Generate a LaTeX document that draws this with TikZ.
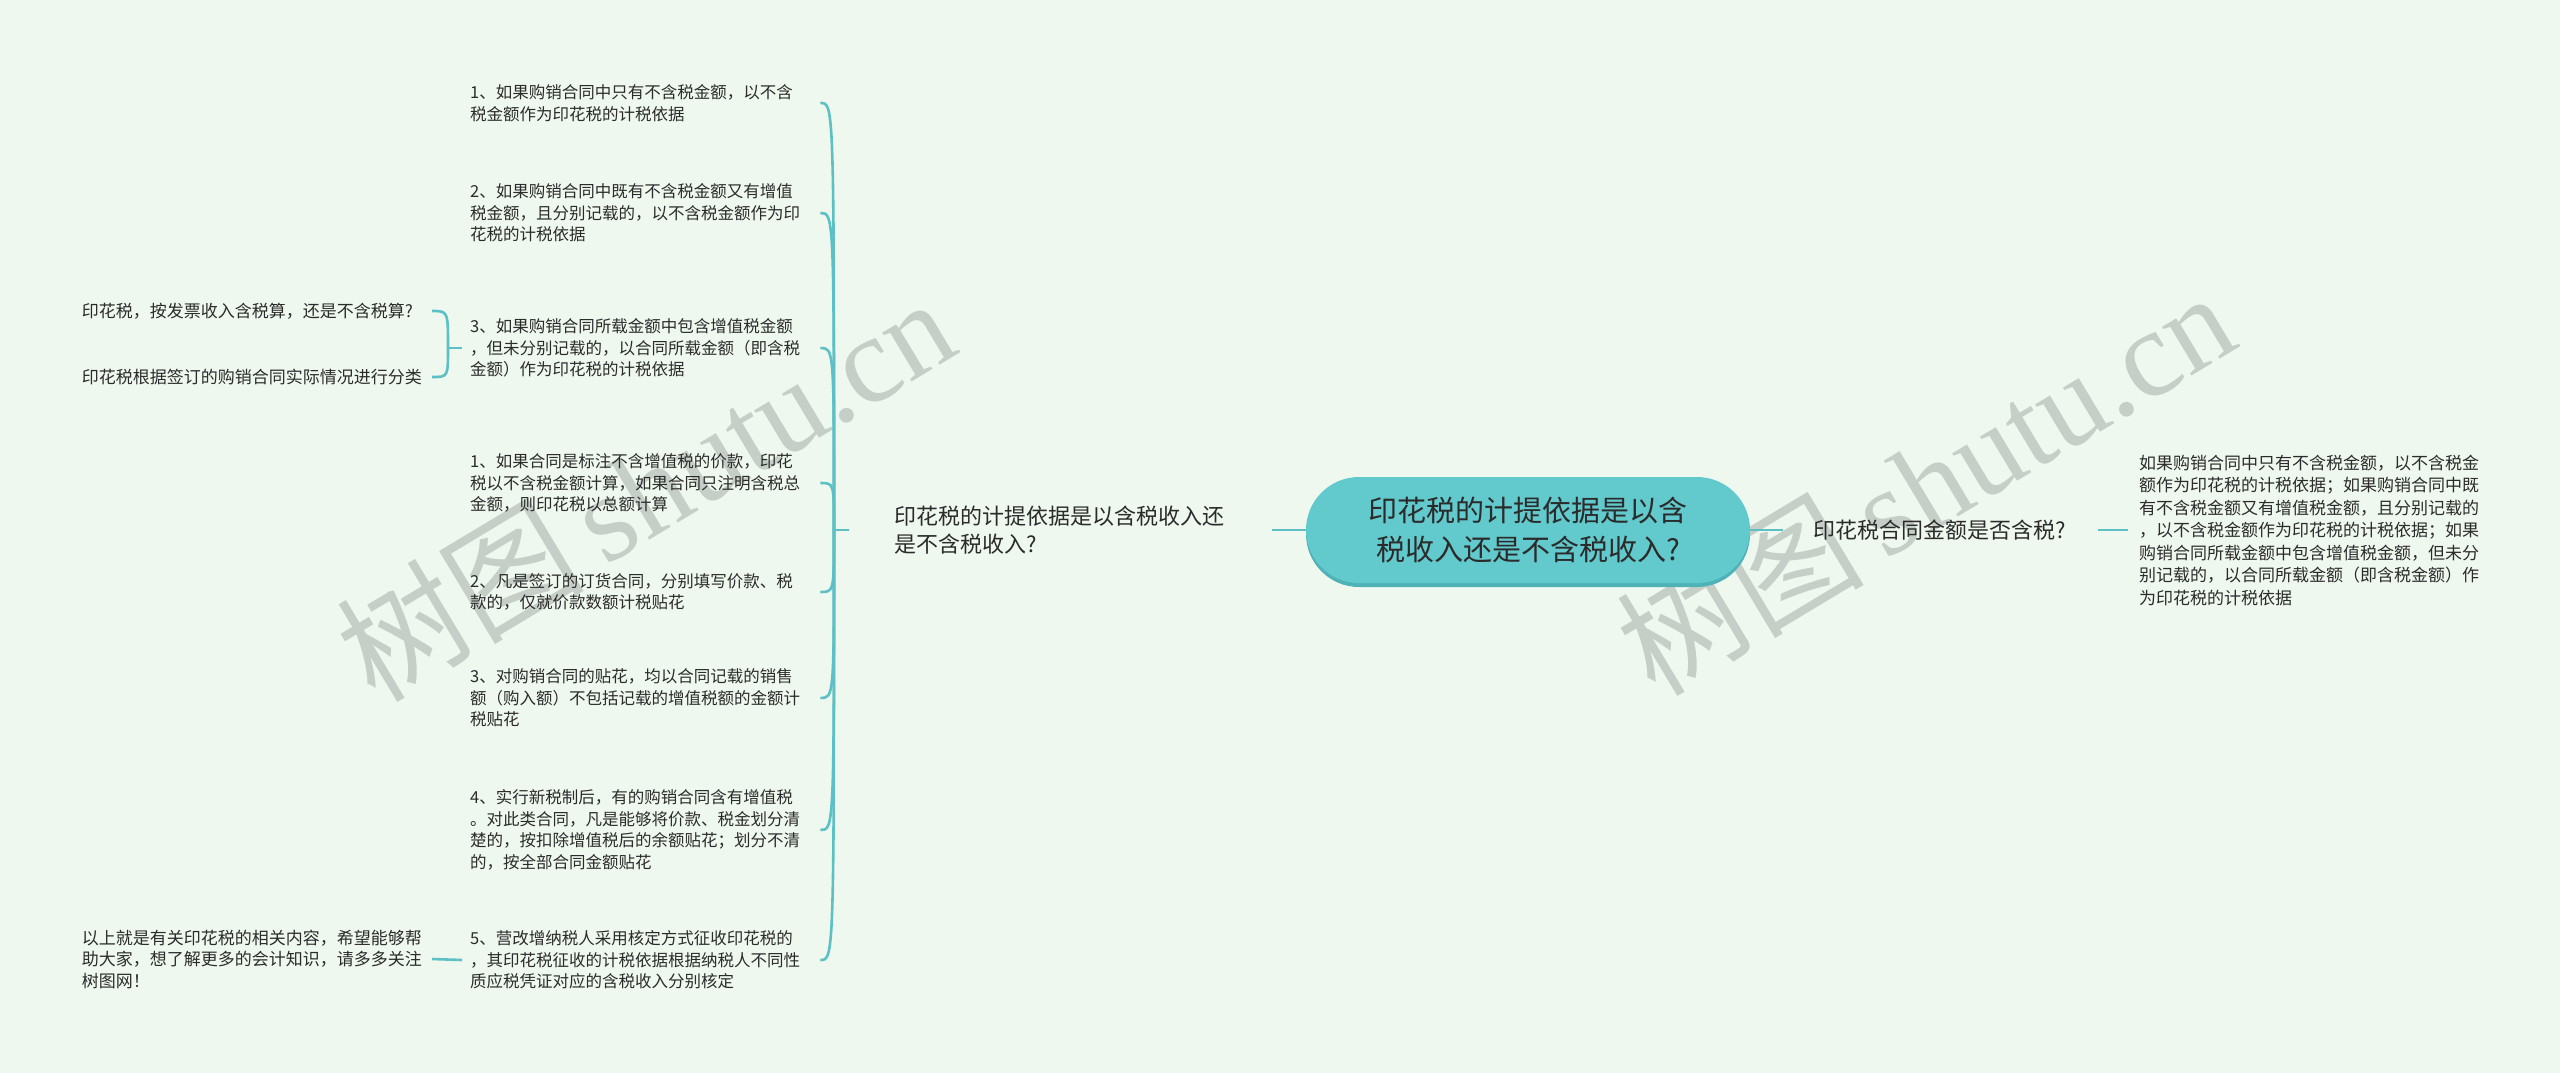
\documentclass[tikz,border=0pt]{standalone}
\usepackage{fontspec}
\setmainfont{Noto Sans CJK SC}
\newfontfamily\wmfont{Liberation Serif}
\usetikzlibrary{calc}
\definecolor{bgc}{HTML}{EFF8EE}
\definecolor{tealfill}{HTML}{62C9CC}
\definecolor{tealshadow}{HTML}{4FB2B6}
\definecolor{linec}{HTML}{5CC0C5}
\definecolor{txt}{HTML}{2B2B2B}
\definecolor{wmc}{HTML}{C6CEC8}
\begin{document}
\begin{tikzpicture}[x=1pt,y=-1pt,
  conn/.style={draw=linec, line width=2.6pt},
  leaf/.style={anchor=west, align=left, text width=342pt, inner xsep=8pt, inner ysep=2pt,
    font=\fontsize{16.5}{21.5}\selectfont, text=txt},
  farleaf/.style={anchor=east, align=left, text width=345pt, inner xsep=5pt, inner ysep=2pt,
    font=\fontsize{17}{21.5}\selectfont, text=txt},
  branch/.style={align=left, inner ysep=4pt, font=\fontsize{22}{28}\selectfont, text=txt},
  wm/.style={rotate=31, text=wmc, font=\fontsize{124}{124}\selectfont}
]
\fill[bgc] (0,0) rectangle (2560,1073);
\useasboundingbox (0,0) rectangle (2560,1073);

% watermarks
\node[wm] (wmA) at (645,488) {树图\,{\wmfont shutu.cn}};
\node[wm] (wmB) at (1925,482) {树图\,{\wmfont shutu.cn}};

% root
\fill[tealshadow, rounded corners=53pt] (1306,481) rectangle (1750,587);
\node[fill=tealfill, rounded corners=53pt, minimum width=444pt, minimum height=106pt,
  align=center, font=\fontsize{29}{39}\selectfont, text=txt] (root) at (1528,530)
  {印花税的计提依据是以含\\税收入还是不含税收入?};

% main branches
\node[branch, text width=332pt, inner xsep=45.5pt] (L) at (1060.5,530)
  {印花税的计提依据是以含税收入还\\是不含税收入?};
\node[branch, text width=255pt, inner xsep=30pt] (R) at (1940.5,530)
  {印花税合同金额是否含税?};
\node[leaf, font=\fontsize{17}{22.5}\selectfont, text width=345pt, inner xsep=11pt] (RC) at (2128,530)
  {如果购销合同中只有不含税金额，以不含税金\\额作为印花税的计税依据；如果购销合同中既\\有不含税金额又有增值税金额，且分别记载的\\，以不含税金额作为印花税的计税依据；如果\\购销合同所载金额中包含增值税金额，但未分\\别记载的，以合同所载金额（即含税金额）作\\为印花税的计税依据};

% left children
\node[leaf] (c1) at (462,103) {1、如果购销合同中只有不含税金额，以不含\\税金额作为印花税的计税依据};
\node[leaf] (c2) at (462,213) {2、如果购销合同中既有不含税金额又有增值\\税金额，且分别记载的，以不含税金额作为印\\花税的计税依据};
\node[leaf] (c3) at (462,348) {3、如果购销合同所载金额中包含增值税金额\\，但未分别记载的，以合同所载金额（即含税\\金额）作为印花税的计税依据};
\node[leaf] (c4) at (462,483) {1、如果合同是标注不含增值税的价款，印花\\税以不含税金额计算，如果合同只注明含税总\\金额，则印花税以总额计算};
\node[leaf] (c5) at (462,592) {2、凡是签订的订货合同，分别填写价款、税\\款的，仅就价款数额计税贴花};
\node[leaf] (c6) at (462,698) {3、对购销合同的贴花，均以合同记载的销售\\额（购入额）不包括记载的增值税额的金额计\\税贴花};
\node[leaf] (c7) at (462,830) {4、实行新税制后，有的购销合同含有增值税\\。对此类合同，凡是能够将价款、税金划分清\\楚的，按扣除增值税后的余额贴花；划分不清\\的，按全部合同金额贴花};
\node[leaf] (c8) at (462,960) {5、营改增纳税人采用核定方式征收印花税的\\，其印花税征收的计税依据根据纳税人不同性\\质应税凭证对应的含税收入分别核定};

% far-left leaves
\node[farleaf] (d1) at (432,311) {印花税，按发票收入含税算，还是不含税算?};
\node[farleaf] (d2) at (432,377) {印花税根据签订的购销合同实际情况进行分类};
\node[farleaf] (d3) at (432,959) {以上就是有关印花税的相关内容，希望能够帮\\助大家，想了解更多的会计知识，请多多关注\\树图网！};

% junction points
\coordinate (J) at (834,530);
\coordinate (J3) at (448,348);

% connectors
\draw[conn] (root.west) -- (L.east);
\draw[conn] (root.east) -- (R.west);
\draw[conn] (R.east) -- (RC.west);
\draw[conn] (L.west) -- (J);
\foreach \c in {c1,c2,c3,c4,c5,c6,c7,c8}{
  \draw[conn] (J) .. controls (J |- \c.east) .. (\c.east);
}
\draw[conn] (c3.west) -- (J3);
\draw[conn] (J3) .. controls (J3 |- d1.east) .. (d1.east);
\draw[conn] (J3) .. controls (J3 |- d2.east) .. (d2.east);
\draw[conn] (c8.west) -- (d3.east);
\end{tikzpicture}
\end{document}
